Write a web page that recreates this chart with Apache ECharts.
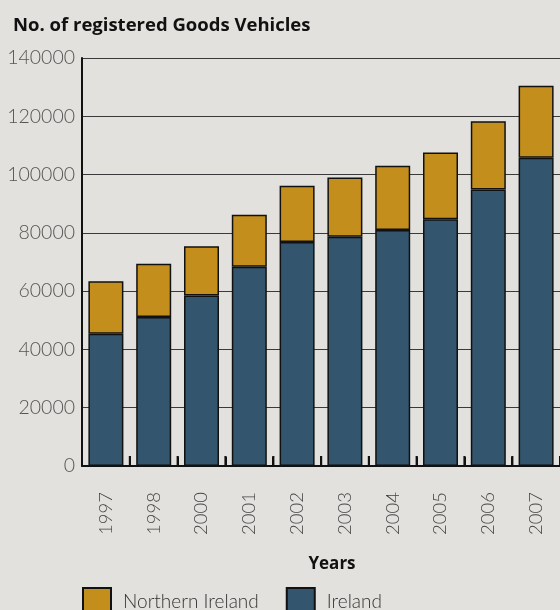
<!DOCTYPE html>
<html>
<head>
<meta charset="utf-8">
<script src="https://cdn.jsdelivr.net/npm/echarts@6/dist/echarts.min.js"></script>
<style>
  html, body { margin: 0; padding: 0; background: #E2E1DD; }
  #chart { width: 560px; height: 610px; }
</style>
</head>
<body>
<div id="chart"></div>
<script>
// Registered goods vehicles per year
const years = ['1997', '1998', '2000', '2001', '2002', '2003', '2004', '2005', '2006', '2007'];
const ireland = [45400, 51100, 58500, 68400, 76900, 78700, 81000, 84700, 94900, 105800];
const northernIreland = [18000, 18300, 16900, 17800, 19300, 20300, 22000, 22900, 23400, 24700];

const FONT = 'Lato, "Open Sans", sans-serif';
const GOLD = '#C48E1C';
const BLUE = '#33556D';

const chart = echarts.init(document.getElementById('chart'), null, { renderer: 'canvas' });

// Short inward tick on the right boundary of each year's column
function renderBoundaryTick(params, api) {
  const base = api.coord([api.value(0), 0]);
  const half = api.size([1, 0])[0] / 2;
  const x = base[0] + half;
  return {
    type: 'rect',
    silent: true,
    z2: 100,
    shape: { x: x - 1, y: base[1] - 10, width: 2.2, height: 10 },
    style: { fill: '#111' }
  };
}

chart.setOption({
  backgroundColor: '#E2E1DD',
  animation: false,
  title: {
    text: 'No. of registered Goods Vehicles',
    left: 8,
    top: 11,
    textStyle: { fontFamily: '"Open Sans", sans-serif', fontWeight: 'bold', fontSize: 18.5, color: '#111' }
  },
  grid: { left: 82, top: 58, width: 478, height: 408 },
  legend: {
    data: ['Northern Ireland', 'Ireland'],
    left: 77,
    top: 582,
    itemWidth: 28,
    itemHeight: 28,
    itemGap: 27,
    icon: 'rect',
    textStyle: { fontFamily: FONT, fontWeight: 300, fontSize: 19, color: '#333', padding: [0, 0, 0, 7] }
  },
  xAxis: {
    type: 'category',
    data: years,
    name: 'Years',
    nameLocation: 'middle',
    nameGap: 90,
    nameTextStyle: { fontFamily: '"Open Sans", sans-serif', fontWeight: 'bold', fontSize: 17, color: '#111', padding: [0, 0, 0, 22] },
    axisLine: { show: true, lineStyle: { color: '#111', width: 2 } },
    axisTick: { show: true, inside: true, interval: 0, length: 9, lineStyle: { color: '#111', width: 2 } },
    axisLabel: { rotate: 90, margin: 26, fontFamily: FONT, fontWeight: 300, fontSize: 18.5, color: '#444' },
    splitLine: { show: false }
  },
  yAxis: {
    type: 'value',
    min: 0,
    max: 140000,
    interval: 20000,
    axisLine: { show: true, lineStyle: { color: '#111', width: 2 } },
    axisTick: { show: false },
    axisLabel: {
      margin: 7,
      fontFamily: FONT,
      fontWeight: 300,
      fontSize: 19.5,
      color: '#555',
      formatter: v => String(v)
    },
    splitLine: { show: true, lineStyle: { color: '#3a3a3a', width: 1.2 } }
  },
  series: [
    {
      name: 'Ireland',
      type: 'bar',
      stack: 'total',
      data: ireland,
      barWidth: 35,
      itemStyle: { color: BLUE, borderColor: '#111', borderWidth: 1.5 }
    },
    {
      name: 'Northern Ireland',
      type: 'bar',
      stack: 'total',
      data: northernIreland,
      barWidth: 35,
      itemStyle: { color: GOLD, borderColor: '#111', borderWidth: 1.5 }
    },
    {
      name: 'boundary ticks',
      type: 'custom',
      z: 10,
      clip: false,
      silent: true,
      renderItem: renderBoundaryTick,
      data: years.map(y => [y, 0])
    }
  ]
});
</script>
</body>
</html>
